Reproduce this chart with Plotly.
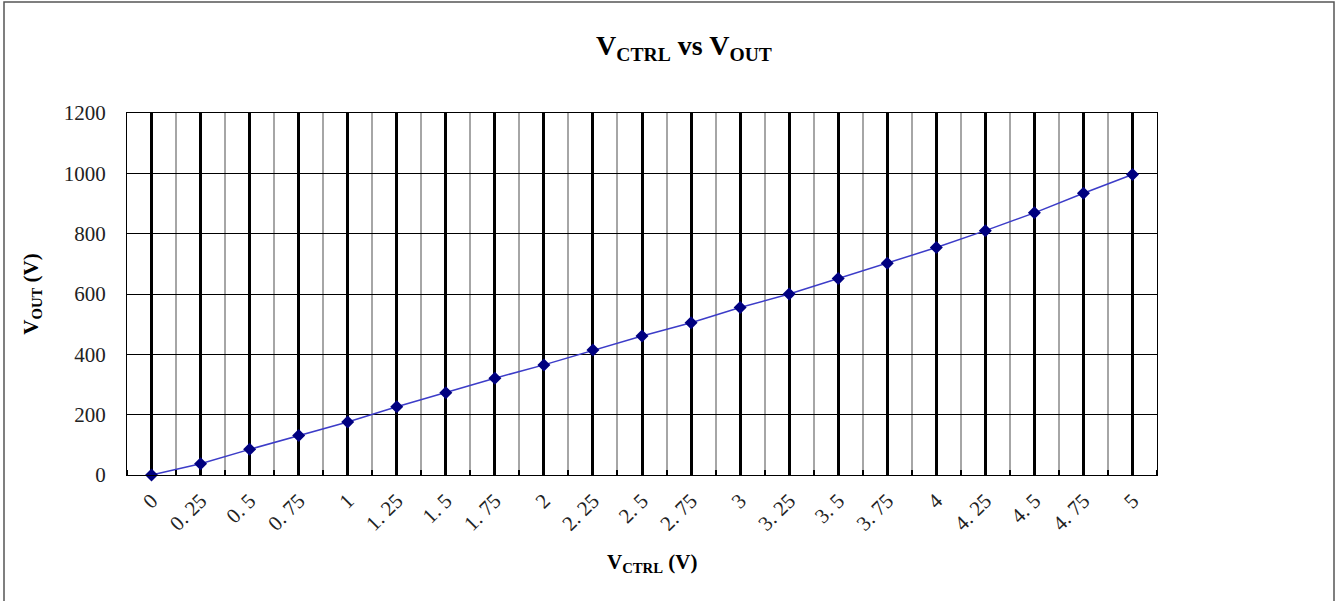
import plotly.graph_objects as go

categories = ["0", "0. 25", "0. 5", "0. 75", "1", "1. 25", "1. 5", "1. 75", "2", "2. 25", "2. 5",
              "2. 75", "3", "3. 25", "3. 5", "3. 75", "4", "4. 25", "4. 5", "4. 75", "5"]
vout = [0, 37, 85, 131, 176, 226, 273, 321, 365, 414, 461, 505, 555, 600, 651, 702, 754, 810, 869, 934, 996]
y_ticks = [0, 200, 400, 600, 800, 1000, 1200]

W, H = 1337, 601
L, R, T, B = 127, 1157, 113, 475  # plot area edges in pixels
pw, ph = R - L, B - T

def px(x):
    return (x - L) / pw

def py(y):
    return (B - y) / ph

idx = list(range(len(categories)))
serif = "Liberation Serif"

fig = go.Figure()
fig.add_trace(go.Scatter(
    x=idx, y=vout, mode="lines+markers",
    line=dict(color="#3c3cc8", width=1.5),
    marker=dict(symbol="diamond", size=10, color="#000080"),
    cliponaxis=False, showlegend=False,
))

fig.update_layout(
    width=W, height=H,
    margin=dict(l=L, r=W - R, t=T, b=H - B, pad=0),
    paper_bgcolor="white", plot_bgcolor="white",
    font=dict(family=serif, color="black"),
    title=dict(text="<b>V<sub>CTRL</sub> vs V<sub>OUT</sub></b>",
               xref="paper", x=px(684), xanchor="center",
               yref="container", y=1 - 45 / H, yanchor="middle",
               font=dict(family=serif, size=28, color="black")),
    xaxis=dict(
        range=[-0.5, len(categories) - 0.5],
        tickmode="array", tickvals=idx, ticktext=categories,
        tickangle=-45, tickfont=dict(family=serif, size=21, color="#222"),
        ticklabelstandoff=4,
        showgrid=True, gridcolor="black", gridwidth=2.5,
        ticks="", showline=True, linecolor="black", linewidth=1.2, mirror=True,
        zeroline=False,
        minor=dict(tickmode="array", tickvals=[i - 0.5 for i in range(len(categories) + 1)],
                   showgrid=True, gridcolor="#a6a6a6", gridwidth=1.5,
                   ticks="inside", ticklen=5, tickcolor="black", tickwidth=1.5),
    ),
    yaxis=dict(
        range=[0, 1200], tickmode="array", tickvals=y_ticks,
        tickfont=dict(family=serif, size=21, color="#222"),
        ticklabelstandoff=16,
        title=dict(text="<b>V<sub>OUT</sub> (V)</b>", standoff=19,
                   font=dict(family=serif, size=21, color="black")),
        showgrid=True, gridcolor="black", gridwidth=1.2,
        ticks="", ticklen=0, showline=True, linecolor="black", linewidth=1.2, mirror=True,
        zeroline=False,
    ),
    annotations=[
        dict(text="<b>V<sub>CTRL</sub> (V)</b>",
             xref="paper", yref="paper", x=px(652), y=py(563), xanchor="center", yanchor="middle",
             showarrow=False, font=dict(family=serif, size=21, color="black")),
    ],
    shapes=[
        dict(type="rect", xref="paper", yref="paper", x0=px(4), x1=px(1334), y0=py(620), y1=py(2),
             line=dict(color="#555555", width=1.5), fillcolor="rgba(0,0,0,0)", layer="below"),
    ],
)

fig.write_html("out.html", config={"displayModeBar": False},
               post_script="document.body.style.margin='0';document.body.style.overflow='hidden';")
